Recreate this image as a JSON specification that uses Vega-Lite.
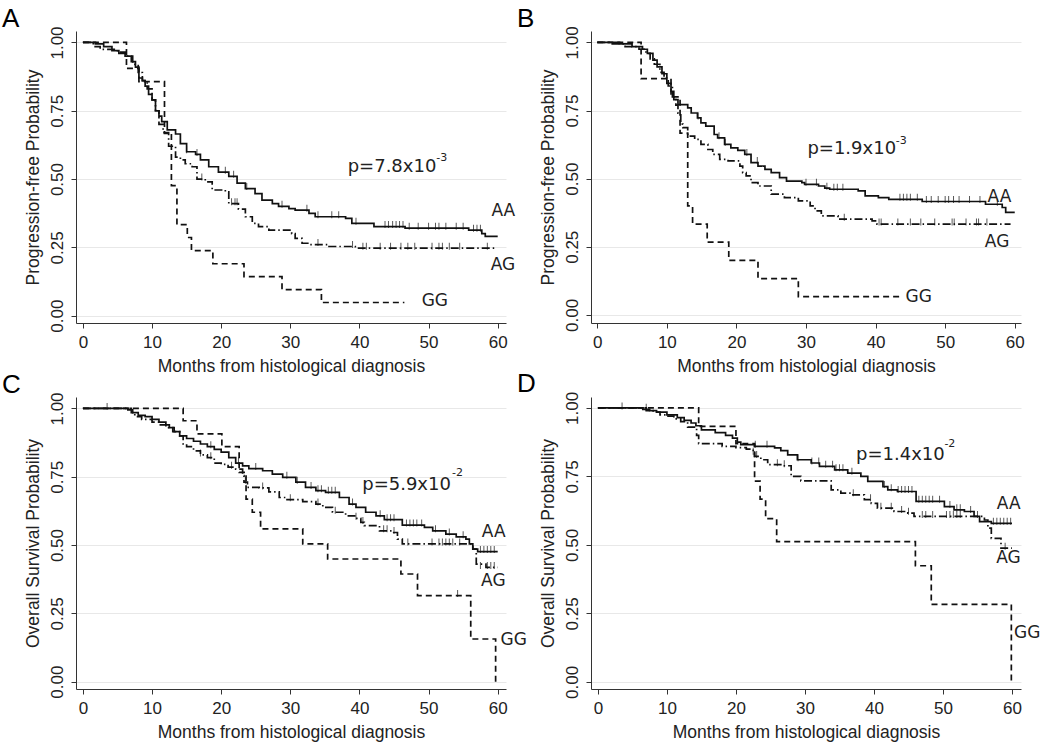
{
 "$schema": "https://vega.github.io/schema/vega-lite/v6.json",
 "background": "white",
 "padding": {"left": 2, "top": 5, "right": 5, "bottom": 5},
 "columns": 2,
 "spacing": {"row": 74, "column": 85},
 "bounds": "flush",
 "config": {
  "view": {"stroke": null},
  "font": "Liberation Sans",
  "axis": {"labelFont": "Liberation Sans", "labelFontSize": 17, "labelColor": "#222", "titleFont": "Liberation Sans", "titleFontSize": 17.5, "titleFontWeight": "normal", "titleColor": "#222", "domainColor": "#333", "tickColor": "#333", "tickSize": 5, "gridColor": "#e8e8e8", "labelFlush": false},
  "axisX": {"grid": false, "labelPadding": 6, "titlePadding": 7},
  "axisY": {"labelAngle": -90, "labelAlign": "center", "labelBaseline": "bottom", "labelPadding": 5, "titlePadding": 6, "grid": true},
  "title": {"font": "Liberation Sans", "fontSize": 26, "fontWeight": "normal", "anchor": "start", "frame": "bounds", "color": "#000", "offset": -6, "dx": -22}
 },
 "datasets": {
  "a_lines": [
   {"g":"AA","x":0,"y":1},{"g":"AA","x":1.8,"y":0.995},{"g":"AA","x":3,"y":0.985},{"g":"AA","x":4.2,"y":0.97},{"g":"AA","x":5.2,"y":0.96},{"g":"AA","x":6.1,"y":0.95},{"g":"AA","x":7,"y":0.93},{"g":"AA","x":7.6,"y":0.91},{"g":"AA","x":8.1,"y":0.87},{"g":"AA","x":8.6,"y":0.86},{"g":"AA","x":9,"y":0.84},{"g":"AA","x":9.5,"y":0.81},{"g":"AA","x":10,"y":0.79},{"g":"AA","x":10.5,"y":0.75},{"g":"AA","x":11,"y":0.73},{"g":"AA","x":11.4,"y":0.71},{"g":"AA","x":12.2,"y":0.68},{"g":"AA","x":13.4,"y":0.665},{"g":"AA","x":14.1,"y":0.63},{"g":"AA","x":15,"y":0.6},{"g":"AA","x":16.3,"y":0.59},{"g":"AA","x":17,"y":0.57},{"g":"AA","x":18.2,"y":0.545},{"g":"AA","x":19.6,"y":0.525},{"g":"AA","x":21.1,"y":0.51},{"g":"AA","x":22.3,"y":0.485},{"g":"AA","x":23.5,"y":0.465},{"g":"AA","x":24.9,"y":0.447},{"g":"AA","x":25.9,"y":0.423},{"g":"AA","x":27.4,"y":0.41},{"g":"AA","x":28.3,"y":0.4},{"g":"AA","x":29.8,"y":0.392},{"g":"AA","x":30.7,"y":0.386},{"g":"AA","x":32.7,"y":0.374},{"g":"AA","x":33.6,"y":0.362},{"g":"AA","x":38,"y":0.356},{"g":"AA","x":38.9,"y":0.338},{"g":"AA","x":42.1,"y":0.326},{"g":"AA","x":46.6,"y":0.32},{"g":"AA","x":55.8,"y":0.313},{"g":"AA","x":57.7,"y":0.3},{"g":"AA","x":58.2,"y":0.29},{"g":"AA","x":60,"y":0.29},
   {"g":"AG","x":0,"y":1},{"g":"AG","x":1.5,"y":0.985},{"g":"AG","x":2.5,"y":0.975},{"g":"AG","x":5,"y":0.965},{"g":"AG","x":6.2,"y":0.95},{"g":"AG","x":7.2,"y":0.92},{"g":"AG","x":8,"y":0.89},{"g":"AG","x":8.6,"y":0.86},{"g":"AG","x":9.3,"y":0.83},{"g":"AG","x":10,"y":0.79},{"g":"AG","x":10.5,"y":0.75},{"g":"AG","x":11,"y":0.7},{"g":"AG","x":11.6,"y":0.67},{"g":"AG","x":12.4,"y":0.62},{"g":"AG","x":13.4,"y":0.58},{"g":"AG","x":14.1,"y":0.57},{"g":"AG","x":14.8,"y":0.556},{"g":"AG","x":15.8,"y":0.545},{"g":"AG","x":16.5,"y":0.5},{"g":"AG","x":17.7,"y":0.49},{"g":"AG","x":18.7,"y":0.46},{"g":"AG","x":20.6,"y":0.453},{"g":"AG","x":21.1,"y":0.41},{"g":"AG","x":22.5,"y":0.39},{"g":"AG","x":23.5,"y":0.362},{"g":"AG","x":24.5,"y":0.338},{"g":"AG","x":25.4,"y":0.326},{"g":"AG","x":26.9,"y":0.313},{"g":"AG","x":30.2,"y":0.3},{"g":"AG","x":30.7,"y":0.283},{"g":"AG","x":31.7,"y":0.265},{"g":"AG","x":32.7,"y":0.26},{"g":"AG","x":35.6,"y":0.253},{"g":"AG","x":39.4,"y":0.247},{"g":"AG","x":59.7,"y":0.247},
   {"g":"GG","x":0,"y":1},{"g":"GG","x":6.3,"y":0.905},{"g":"GG","x":8.1,"y":0.857},{"g":"GG","x":11.8,"y":0.667},{"g":"GG","x":12.8,"y":0.476},{"g":"GG","x":13.6,"y":0.333},{"g":"GG","x":15.1,"y":0.286},{"g":"GG","x":15.7,"y":0.238},{"g":"GG","x":18.8,"y":0.19},{"g":"GG","x":23.3,"y":0.143},{"g":"GG","x":28.8,"y":0.095},{"g":"GG","x":34.5,"y":0.048},{"g":"GG","x":46.5,"y":0.048}
  ],
  "a_cens": [
   {"x":15,"y":0.6},{"x":16.5,"y":0.59},{"x":20.6,"y":0.525},{"x":21.8,"y":0.51},{"x":23.7,"y":0.465},{"x":28.8,"y":0.4},{"x":32.4,"y":0.386},{"x":34,"y":0.362},{"x":36,"y":0.362},{"x":37,"y":0.362},{"x":39.5,"y":0.338},{"x":43.7,"y":0.326},{"x":44.2,"y":0.326},{"x":44.8,"y":0.326},{"x":45.3,"y":0.326},{"x":45.8,"y":0.326},{"x":46.3,"y":0.326},{"x":47.2,"y":0.32},{"x":48.5,"y":0.32},{"x":50,"y":0.32},{"x":51,"y":0.32},{"x":51.5,"y":0.32},{"x":52.5,"y":0.32},{"x":54,"y":0.32},{"x":55,"y":0.32},{"x":56.5,"y":0.313},{"x":57,"y":0.313},{"x":57.5,"y":0.313},
   {"x":17.2,"y":0.5},{"x":21.5,"y":0.41},{"x":22,"y":0.41},{"x":22.3,"y":0.41},{"x":34,"y":0.26},{"x":39,"y":0.253},{"x":40.5,"y":0.247},{"x":41,"y":0.247},{"x":43,"y":0.247},{"x":44.5,"y":0.247},{"x":46,"y":0.247},{"x":47,"y":0.247},{"x":48,"y":0.247},{"x":50.5,"y":0.247},{"x":51.5,"y":0.247},{"x":52,"y":0.247},{"x":53,"y":0.247},{"x":54.5,"y":0.247},{"x":58.5,"y":0.247}
  ],
  "a_lab": [{"x":59.1,"y":0.384,"t":"AA"},{"x":59,"y":0.186,"t":"AG"},{"x":49,"y":0.052,"t":"GG"}],
  "a_p": [{"x":38.3,"y":0.544,"t":"p=7.8x10"}],
  "a_sup": [{"x":51.1,"y":0.578,"t":"-3"}],
  "b_lines": [
   {"g":"AA","x":0,"y":1},{"g":"AA","x":3.2,"y":0.995},{"g":"AA","x":5,"y":0.985},{"g":"AA","x":6.5,"y":0.975},{"g":"AA","x":7.2,"y":0.96},{"g":"AA","x":8,"y":0.935},{"g":"AA","x":8.6,"y":0.91},{"g":"AA","x":9.3,"y":0.885},{"g":"AA","x":10,"y":0.85},{"g":"AA","x":10.6,"y":0.82},{"g":"AA","x":11,"y":0.79},{"g":"AA","x":11.6,"y":0.772},{"g":"AA","x":13,"y":0.76},{"g":"AA","x":13.5,"y":0.741},{"g":"AA","x":14.4,"y":0.723},{"g":"AA","x":14.9,"y":0.705},{"g":"AA","x":15.6,"y":0.693},{"g":"AA","x":16.8,"y":0.662},{"g":"AA","x":17.3,"y":0.65},{"g":"AA","x":18.3,"y":0.626},{"g":"AA","x":19.2,"y":0.613},{"g":"AA","x":20.2,"y":0.604},{"g":"AA","x":21.2,"y":0.589},{"g":"AA","x":22.1,"y":0.559},{"g":"AA","x":23.1,"y":0.546},{"g":"AA","x":24.1,"y":0.534},{"g":"AA","x":25,"y":0.522},{"g":"AA","x":26.2,"y":0.504},{"g":"AA","x":27.2,"y":0.491},{"g":"AA","x":29.4,"y":0.485},{"g":"AA","x":29.8,"y":0.479},{"g":"AA","x":31.8,"y":0.473},{"g":"AA","x":32.7,"y":0.465},{"g":"AA","x":33.4,"y":0.461},{"g":"AA","x":37.5,"y":0.455},{"g":"AA","x":38.5,"y":0.437},{"g":"AA","x":40.4,"y":0.43},{"g":"AA","x":41.9,"y":0.424},{"g":"AA","x":46.7,"y":0.416},{"g":"AA","x":55.8,"y":0.406},{"g":"AA","x":58.2,"y":0.394},{"g":"AA","x":58.7,"y":0.376},{"g":"AA","x":60,"y":0.376},
   {"g":"AG","x":0,"y":1},{"g":"AG","x":1.8,"y":0.995},{"g":"AG","x":4,"y":0.985},{"g":"AG","x":6,"y":0.975},{"g":"AG","x":7,"y":0.96},{"g":"AG","x":7.6,"y":0.94},{"g":"AG","x":8.2,"y":0.92},{"g":"AG","x":9,"y":0.89},{"g":"AG","x":9.6,"y":0.87},{"g":"AG","x":10.2,"y":0.84},{"g":"AG","x":10.8,"y":0.8},{"g":"AG","x":11.3,"y":0.77},{"g":"AG","x":11.6,"y":0.74},{"g":"AG","x":12,"y":0.7},{"g":"AG","x":12.3,"y":0.687},{"g":"AG","x":13,"y":0.656},{"g":"AG","x":14,"y":0.644},{"g":"AG","x":14.9,"y":0.626},{"g":"AG","x":15.9,"y":0.607},{"g":"AG","x":16.6,"y":0.589},{"g":"AG","x":17.6,"y":0.571},{"g":"AG","x":18.8,"y":0.565},{"g":"AG","x":20.5,"y":0.546},{"g":"AG","x":20.9,"y":0.522},{"g":"AG","x":21.4,"y":0.51},{"g":"AG","x":22.1,"y":0.485},{"g":"AG","x":23.1,"y":0.473},{"g":"AG","x":25,"y":0.443},{"g":"AG","x":26.9,"y":0.43},{"g":"AG","x":28.9,"y":0.418},{"g":"AG","x":30.6,"y":0.4},{"g":"AG","x":31.3,"y":0.382},{"g":"AG","x":32.2,"y":0.363},{"g":"AG","x":34.6,"y":0.351},{"g":"AG","x":39.5,"y":0.345},{"g":"AG","x":40.2,"y":0.333},{"g":"AG","x":59.4,"y":0.333},
   {"g":"GG","x":0,"y":1},{"g":"GG","x":6.3,"y":0.867},{"g":"GG","x":10.6,"y":0.8},{"g":"GG","x":11.9,"y":0.667},{"g":"GG","x":13,"y":0.4},{"g":"GG","x":13.7,"y":0.333},{"g":"GG","x":15.8,"y":0.267},{"g":"GG","x":18.9,"y":0.2},{"g":"GG","x":23.1,"y":0.133},{"g":"GG","x":28.9,"y":0.067},{"g":"GG","x":43.8,"y":0.067}
  ],
  "b_cens": [
   {"x":14.5,"y":0.723},{"x":17.5,"y":0.65},{"x":18.4,"y":0.626},{"x":21.5,"y":0.589},{"x":23,"y":0.559},{"x":30,"y":0.479},{"x":31.5,"y":0.479},{"x":33,"y":0.465},{"x":34,"y":0.461},{"x":34.5,"y":0.461},{"x":35.3,"y":0.461},{"x":43.5,"y":0.424},{"x":44,"y":0.424},{"x":44.5,"y":0.424},{"x":45,"y":0.424},{"x":46,"y":0.424},{"x":47.3,"y":0.416},{"x":48,"y":0.416},{"x":49,"y":0.416},{"x":50,"y":0.416},{"x":50.5,"y":0.416},{"x":51.2,"y":0.416},{"x":52,"y":0.416},{"x":53.5,"y":0.416},{"x":55,"y":0.416},{"x":57.5,"y":0.406},
   {"x":35.5,"y":0.351},{"x":40.5,"y":0.333},{"x":40.8,"y":0.333},{"x":43.2,"y":0.333},{"x":45,"y":0.333},{"x":46.5,"y":0.333},{"x":48.5,"y":0.333},{"x":51,"y":0.333},{"x":51.3,"y":0.333},{"x":53,"y":0.333},{"x":54.5,"y":0.333},{"x":54.8,"y":0.333},{"x":56,"y":0.333}
  ],
  "b_lab": [{"x":56.1,"y":0.433,"t":"AA"},{"x":55.7,"y":0.268,"t":"AG"},{"x":44.3,"y":0.065,"t":"GG"}],
  "b_p": [{"x":30.2,"y":0.607,"t":"p=1.9x10"}],
  "b_sup": [{"x":42.9,"y":0.637,"t":"-3"}],
  "c_lines": [
   {"g":"AA","x":0,"y":1},{"g":"AA","x":6.5,"y":0.995},{"g":"AA","x":7.2,"y":0.985},{"g":"AA","x":8,"y":0.975},{"g":"AA","x":9,"y":0.97},{"g":"AA","x":10,"y":0.96},{"g":"AA","x":11,"y":0.95},{"g":"AA","x":12,"y":0.94},{"g":"AA","x":12.5,"y":0.93},{"g":"AA","x":13.2,"y":0.915},{"g":"AA","x":14,"y":0.9},{"g":"AA","x":15,"y":0.89},{"g":"AA","x":16,"y":0.88},{"g":"AA","x":17,"y":0.87},{"g":"AA","x":18,"y":0.86},{"g":"AA","x":19,"y":0.85},{"g":"AA","x":20,"y":0.84},{"g":"AA","x":21.1,"y":0.82},{"g":"AA","x":22.1,"y":0.8},{"g":"AA","x":23.1,"y":0.79},{"g":"AA","x":24,"y":0.78},{"g":"AA","x":26,"y":0.772},{"g":"AA","x":27.4,"y":0.76},{"g":"AA","x":28.9,"y":0.748},{"g":"AA","x":30.8,"y":0.73},{"g":"AA","x":32.2,"y":0.711},{"g":"AA","x":33.7,"y":0.699},{"g":"AA","x":35.1,"y":0.693},{"g":"AA","x":37.1,"y":0.674},{"g":"AA","x":38.5,"y":0.65},{"g":"AA","x":39.5,"y":0.638},{"g":"AA","x":40.9,"y":0.62},{"g":"AA","x":42.4,"y":0.607},{"g":"AA","x":43.6,"y":0.593},{"g":"AA","x":46.2,"y":0.573},{"g":"AA","x":49.4,"y":0.565},{"g":"AA","x":50.6,"y":0.552},{"g":"AA","x":52.5,"y":0.54},{"g":"AA","x":54,"y":0.53},{"g":"AA","x":55.4,"y":0.522},{"g":"AA","x":55.9,"y":0.504},{"g":"AA","x":56.4,"y":0.485},{"g":"AA","x":57.1,"y":0.476},{"g":"AA","x":60,"y":0.476},
   {"g":"AG","x":0,"y":1},{"g":"AG","x":7,"y":0.985},{"g":"AG","x":7.5,"y":0.97},{"g":"AG","x":8.5,"y":0.96},{"g":"AG","x":10,"y":0.95},{"g":"AG","x":11,"y":0.94},{"g":"AG","x":12,"y":0.93},{"g":"AG","x":13,"y":0.915},{"g":"AG","x":14,"y":0.9},{"g":"AG","x":14.5,"y":0.87},{"g":"AG","x":15,"y":0.86},{"g":"AG","x":16,"y":0.845},{"g":"AG","x":17,"y":0.83},{"g":"AG","x":18,"y":0.82},{"g":"AG","x":19,"y":0.8},{"g":"AG","x":20,"y":0.795},{"g":"AG","x":21,"y":0.785},{"g":"AG","x":22.1,"y":0.778},{"g":"AG","x":23.1,"y":0.754},{"g":"AG","x":23.3,"y":0.73},{"g":"AG","x":23.8,"y":0.711},{"g":"AG","x":25.5,"y":0.709},{"g":"AG","x":26.9,"y":0.695},{"g":"AG","x":28.4,"y":0.674},{"g":"AG","x":29.3,"y":0.666},{"g":"AG","x":31.8,"y":0.659},{"g":"AG","x":33.7,"y":0.65},{"g":"AG","x":34.7,"y":0.638},{"g":"AG","x":36.1,"y":0.62},{"g":"AG","x":38,"y":0.607},{"g":"AG","x":39.5,"y":0.598},{"g":"AG","x":40.2,"y":0.583},{"g":"AG","x":40.7,"y":0.571},{"g":"AG","x":42.9,"y":0.552},{"g":"AG","x":44.8,"y":0.546},{"g":"AG","x":45.5,"y":0.522},{"g":"AG","x":46.2,"y":0.504},{"g":"AG","x":56.4,"y":0.485},{"g":"AG","x":56.9,"y":0.43},{"g":"AG","x":58.3,"y":0.418},{"g":"AG","x":60,"y":0.418},
   {"g":"GG","x":0,"y":1},{"g":"GG","x":14.5,"y":0.955},{"g":"GG","x":16.5,"y":0.907},{"g":"GG","x":20.1,"y":0.86},{"g":"GG","x":22.6,"y":0.766},{"g":"GG","x":23.6,"y":0.668},{"g":"GG","x":24.5,"y":0.62},{"g":"GG","x":25.7,"y":0.559},{"g":"GG","x":31.8,"y":0.504},{"g":"GG","x":35.4,"y":0.449},{"g":"GG","x":46,"y":0.394},{"g":"GG","x":48.4,"y":0.315},{"g":"GG","x":56.1,"y":0.156},{"g":"GG","x":59.7,"y":0}
  ],
  "c_cens": [
   {"x":3.5,"y":1},{"x":18.5,"y":0.86},{"x":22.5,"y":0.8},{"x":25,"y":0.78},{"x":29.5,"y":0.748},{"x":31,"y":0.73},{"x":33,"y":0.711},{"x":34,"y":0.699},{"x":34.5,"y":0.699},{"x":35.5,"y":0.693},{"x":36,"y":0.693},{"x":36.5,"y":0.693},{"x":39,"y":0.65},{"x":43,"y":0.607},{"x":44,"y":0.593},{"x":44.5,"y":0.593},{"x":45,"y":0.593},{"x":46.8,"y":0.573},{"x":47.3,"y":0.573},{"x":47.8,"y":0.573},{"x":48.3,"y":0.573},{"x":49,"y":0.573},{"x":51,"y":0.552},{"x":53,"y":0.54},{"x":55,"y":0.53},{"x":57.5,"y":0.476},{"x":58,"y":0.476},{"x":58.5,"y":0.476},{"x":59,"y":0.476},{"x":59.5,"y":0.476},
   {"x":17,"y":0.83},{"x":18.5,"y":0.82},{"x":21.5,"y":0.785},{"x":23.5,"y":0.73},{"x":26,"y":0.709},{"x":30,"y":0.666},{"x":34,"y":0.65},{"x":36.5,"y":0.62},{"x":39.5,"y":0.598},{"x":40.5,"y":0.583},{"x":43.5,"y":0.552},{"x":44,"y":0.552},{"x":45,"y":0.546},{"x":47,"y":0.504},{"x":50.5,"y":0.504},{"x":51.5,"y":0.504},{"x":52,"y":0.504},{"x":52.5,"y":0.504},{"x":53,"y":0.504},{"x":53.5,"y":0.504},{"x":54.5,"y":0.504},{"x":57.5,"y":0.418},{"x":58.5,"y":0.418},{"x":59,"y":0.418},{"x":59.5,"y":0.418},
   {"x":54.2,"y":0.315}
  ],
  "c_lab": [{"x":57.7,"y":0.546,"t":"AA"},{"x":57.6,"y":0.37,"t":"AG"},{"x":60.4,"y":0.154,"t":"GG"}],
  "c_p": [{"x":40.4,"y":0.721,"t":"p=5.9x10"}],
  "c_sup": [{"x":53.4,"y":0.765,"t":"-2"}],
  "d_lines": [
   {"g":"AA","x":0,"y":1},{"g":"AA","x":6.5,"y":0.995},{"g":"AA","x":7.5,"y":0.99},{"g":"AA","x":8.5,"y":0.985},{"g":"AA","x":10,"y":0.975},{"g":"AA","x":11.5,"y":0.965},{"g":"AA","x":12.5,"y":0.955},{"g":"AA","x":13.5,"y":0.945},{"g":"AA","x":14.2,"y":0.935},{"g":"AA","x":15,"y":0.92},{"g":"AA","x":17,"y":0.91},{"g":"AA","x":18.5,"y":0.9},{"g":"AA","x":19.5,"y":0.89},{"g":"AA","x":20.2,"y":0.875},{"g":"AA","x":20.7,"y":0.866},{"g":"AA","x":22.7,"y":0.86},{"g":"AA","x":25.6,"y":0.854},{"g":"AA","x":26.5,"y":0.844},{"g":"AA","x":27.5,"y":0.829},{"g":"AA","x":28.9,"y":0.811},{"g":"AA","x":30.9,"y":0.799},{"g":"AA","x":32.1,"y":0.787},{"g":"AA","x":34.3,"y":0.774},{"g":"AA","x":36.2,"y":0.762},{"g":"AA","x":38.1,"y":0.75},{"g":"AA","x":39.1,"y":0.732},{"g":"AA","x":41.3,"y":0.713},{"g":"AA","x":42,"y":0.701},{"g":"AA","x":43.4,"y":0.695},{"g":"AA","x":46.1,"y":0.659},{"g":"AA","x":50.2,"y":0.64},{"g":"AA","x":51.6,"y":0.628},{"g":"AA","x":53.1,"y":0.622},{"g":"AA","x":54.5,"y":0.604},{"g":"AA","x":55.3,"y":0.585},{"g":"AA","x":57,"y":0.579},{"g":"AA","x":60,"y":0.579},
   {"g":"AG","x":0,"y":1},{"g":"AG","x":7,"y":0.99},{"g":"AG","x":8,"y":0.985},{"g":"AG","x":9,"y":0.975},{"g":"AG","x":10,"y":0.97},{"g":"AG","x":11,"y":0.96},{"g":"AG","x":12,"y":0.95},{"g":"AG","x":13,"y":0.93},{"g":"AG","x":14.3,"y":0.9},{"g":"AG","x":14.6,"y":0.87},{"g":"AG","x":18,"y":0.86},{"g":"AG","x":20,"y":0.855},{"g":"AG","x":21.5,"y":0.85},{"g":"AG","x":22,"y":0.845},{"g":"AG","x":22.5,"y":0.835},{"g":"AG","x":22.7,"y":0.823},{"g":"AG","x":23.6,"y":0.811},{"g":"AG","x":24.6,"y":0.793},{"g":"AG","x":26.5,"y":0.789},{"g":"AG","x":28,"y":0.75},{"g":"AG","x":29.4,"y":0.734},{"g":"AG","x":33.8,"y":0.701},{"g":"AG","x":35.2,"y":0.689},{"g":"AG","x":36.7,"y":0.683},{"g":"AG","x":38.6,"y":0.665},{"g":"AG","x":39.6,"y":0.652},{"g":"AG","x":40.5,"y":0.634},{"g":"AG","x":42.9,"y":0.622},{"g":"AG","x":44.9,"y":0.616},{"g":"AG","x":45.8,"y":0.604},{"g":"AG","x":56,"y":0.591},{"g":"AG","x":56.5,"y":0.561},{"g":"AG","x":57,"y":0.524},{"g":"AG","x":58.4,"y":0.488},{"g":"AG","x":60,"y":0.488},
   {"g":"GG","x":0,"y":1},{"g":"GG","x":14.6,"y":0.933},{"g":"GG","x":20,"y":0.87},{"g":"GG","x":22.7,"y":0.733},{"g":"GG","x":23.5,"y":0.667},{"g":"GG","x":24.3,"y":0.596},{"g":"GG","x":25.9,"y":0.512},{"g":"GG","x":46,"y":0.424},{"g":"GG","x":48.3,"y":0.283},{"g":"GG","x":59.9,"y":0}
  ],
  "d_cens": [
   {"x":3.5,"y":1},{"x":7,"y":0.995},{"x":22.8,"y":0.86},{"x":24.5,"y":0.86},{"x":29,"y":0.811},{"x":31,"y":0.799},{"x":32,"y":0.799},{"x":33,"y":0.787},{"x":34,"y":0.787},{"x":34.5,"y":0.774},{"x":35,"y":0.774},{"x":35.5,"y":0.774},{"x":36.8,"y":0.762},{"x":41.5,"y":0.713},{"x":42.5,"y":0.701},{"x":43.5,"y":0.695},{"x":44,"y":0.695},{"x":44.5,"y":0.695},{"x":45,"y":0.695},{"x":45.5,"y":0.695},{"x":46.5,"y":0.659},{"x":47,"y":0.659},{"x":47.5,"y":0.659},{"x":48,"y":0.659},{"x":48.5,"y":0.659},{"x":49.5,"y":0.659},{"x":51,"y":0.64},{"x":52,"y":0.628},{"x":52.5,"y":0.628},{"x":54,"y":0.622},{"x":57.3,"y":0.579},{"x":57.8,"y":0.579},{"x":58.3,"y":0.579},{"x":58.8,"y":0.579},{"x":59.3,"y":0.579},{"x":59.8,"y":0.579},
   {"x":22.5,"y":0.835},{"x":23,"y":0.823},{"x":26,"y":0.793},{"x":27,"y":0.789},{"x":37,"y":0.683},{"x":39.5,"y":0.665},{"x":41,"y":0.634},{"x":42.5,"y":0.634},{"x":44,"y":0.622},{"x":45,"y":0.616},{"x":47,"y":0.604},{"x":47.5,"y":0.604},{"x":48.5,"y":0.604},{"x":50.5,"y":0.604},{"x":51,"y":0.604},{"x":51.5,"y":0.604},{"x":52,"y":0.604},{"x":52.5,"y":0.604},{"x":55,"y":0.604},{"x":59,"y":0.488}
  ],
  "d_lab": [{"x":57.8,"y":0.649,"t":"AA"},{"x":57.7,"y":0.451,"t":"AG"},{"x":60.3,"y":0.177,"t":"GG"}],
  "d_p": [{"x":37.4,"y":0.827,"t":"p=1.4x10"}],
  "d_sup": [{"x":50.2,"y":0.868,"t":"-2"}]
 },
 "concat": [
  {
   "width": 430, "height": 292, "title": "A",
   "encoding": {
    "x": {"field": "x", "type": "quantitative", "scale": {"domain": [-1, 61.2], "nice": false, "zero": false}, "axis": {"values": [0,10,20,30,40,50,60], "title": "Months from histological diagnosis"}},
    "y": {"field": "y", "type": "quantitative", "scale": {"domain": [-0.027, 1.042], "nice": false, "zero": false}, "axis": {"values": [0,0.25,0.5,0.75,1], "format": ".2f", "title": "Progression-free Probability"}}
   },
   "layer": [
    {"data": {"name": "a_lines"}, "mark": {"type": "line", "interpolate": "step-after", "strokeWidth": 1.7, "color": "#111"}, "encoding": {"strokeDash": {"field": "g", "type": "nominal", "scale": {"domain": ["AA","AG","GG"], "range": [[1,0],[8,3,1.5,3],[6,4]]}, "legend": null}}},
    {"data": {"name": "a_cens"}, "mark": {"type": "tick", "orient": "vertical", "size": 7, "thickness": 1, "yOffset": -2, "color": "#111"}},
    {"data": {"name": "a_lab"}, "mark": {"type": "text", "font": "DejaVu Sans", "fontSize": 17, "align": "left", "baseline": "middle", "color": "#222"}, "encoding": {"text": {"field": "t"}}},
    {"data": {"name": "a_p"}, "mark": {"type": "text", "font": "DejaVu Sans", "fontSize": 18, "align": "left", "baseline": "middle", "color": "#222"}, "encoding": {"text": {"field": "t"}}},
    {"data": {"name": "a_sup"}, "mark": {"type": "text", "font": "DejaVu Sans", "fontSize": 11, "align": "left", "baseline": "middle", "color": "#222"}, "encoding": {"text": {"field": "t"}}}
   ]
  },
  {
   "width": 430, "height": 292, "title": "B",
   "encoding": {
    "x": {"field": "x", "type": "quantitative", "scale": {"domain": [-0.9, 60.9], "nice": false, "zero": false}, "axis": {"values": [0,10,20,30,40,50,60], "title": "Months from histologial diagnosis"}},
    "y": {"field": "y", "type": "quantitative", "scale": {"domain": [-0.03, 1.042], "nice": false, "zero": false}, "axis": {"values": [0,0.25,0.5,0.75,1], "format": ".2f", "title": "Progression-free Probability"}}
   },
   "layer": [
    {"data": {"name": "b_lines"}, "mark": {"type": "line", "interpolate": "step-after", "strokeWidth": 1.7, "color": "#111"}, "encoding": {"strokeDash": {"field": "g", "type": "nominal", "scale": {"domain": ["AA","AG","GG"], "range": [[1,0],[8,3,1.5,3],[6,4]]}, "legend": null}}},
    {"data": {"name": "b_cens"}, "mark": {"type": "tick", "orient": "vertical", "size": 7, "thickness": 1, "yOffset": -2, "color": "#111"}},
    {"data": {"name": "b_lab"}, "mark": {"type": "text", "font": "DejaVu Sans", "fontSize": 17, "align": "left", "baseline": "middle", "color": "#222"}, "encoding": {"text": {"field": "t"}}},
    {"data": {"name": "b_p"}, "mark": {"type": "text", "font": "DejaVu Sans", "fontSize": 18, "align": "left", "baseline": "middle", "color": "#222"}, "encoding": {"text": {"field": "t"}}},
    {"data": {"name": "b_sup"}, "mark": {"type": "text", "font": "DejaVu Sans", "fontSize": 11, "align": "left", "baseline": "middle", "color": "#222"}, "encoding": {"text": {"field": "t"}}}
   ]
  },
  {
   "width": 430, "height": 292, "title": "C",
   "encoding": {
    "x": {"field": "x", "type": "quantitative", "scale": {"domain": [-1, 61.2], "nice": false, "zero": false}, "axis": {"values": [0,10,20,30,40,50,60], "title": "Months from histological diagnosis"}},
    "y": {"field": "y", "type": "quantitative", "scale": {"domain": [-0.027, 1.042], "nice": false, "zero": false}, "axis": {"values": [0,0.25,0.5,0.75,1], "format": ".2f", "title": "Overall Survival Probability"}}
   },
   "layer": [
    {"data": {"name": "c_lines"}, "mark": {"type": "line", "interpolate": "step-after", "strokeWidth": 1.7, "color": "#111"}, "encoding": {"strokeDash": {"field": "g", "type": "nominal", "scale": {"domain": ["AA","AG","GG"], "range": [[1,0],[8,3,1.5,3],[6,4]]}, "legend": null}}},
    {"data": {"name": "c_cens"}, "mark": {"type": "tick", "orient": "vertical", "size": 7, "thickness": 1, "yOffset": -2, "color": "#111"}},
    {"data": {"name": "c_lab"}, "mark": {"type": "text", "font": "DejaVu Sans", "fontSize": 17, "align": "left", "baseline": "middle", "color": "#222"}, "encoding": {"text": {"field": "t"}}},
    {"data": {"name": "c_p"}, "mark": {"type": "text", "font": "DejaVu Sans", "fontSize": 18, "align": "left", "baseline": "middle", "color": "#222"}, "encoding": {"text": {"field": "t"}}},
    {"data": {"name": "c_sup"}, "mark": {"type": "text", "font": "DejaVu Sans", "fontSize": 11, "align": "left", "baseline": "middle", "color": "#222"}, "encoding": {"text": {"field": "t"}}}
   ]
  },
  {
   "width": 430, "height": 292, "title": "D",
   "encoding": {
    "x": {"field": "x", "type": "quantitative", "scale": {"domain": [-1, 61.3], "nice": false, "zero": false}, "axis": {"values": [0,10,20,30,40,50,60], "title": "Months from histological diagnosis"}},
    "y": {"field": "y", "type": "quantitative", "scale": {"domain": [-0.026, 1.04], "nice": false, "zero": false}, "axis": {"values": [0,0.25,0.5,0.75,1], "format": ".2f", "title": "Overall Survival Probability"}}
   },
   "layer": [
    {"data": {"name": "d_lines"}, "mark": {"type": "line", "interpolate": "step-after", "strokeWidth": 1.7, "color": "#111"}, "encoding": {"strokeDash": {"field": "g", "type": "nominal", "scale": {"domain": ["AA","AG","GG"], "range": [[1,0],[8,3,1.5,3],[6,4]]}, "legend": null}}},
    {"data": {"name": "d_cens"}, "mark": {"type": "tick", "orient": "vertical", "size": 7, "thickness": 1, "yOffset": -2, "color": "#111"}},
    {"data": {"name": "d_lab"}, "mark": {"type": "text", "font": "DejaVu Sans", "fontSize": 17, "align": "left", "baseline": "middle", "color": "#222"}, "encoding": {"text": {"field": "t"}}},
    {"data": {"name": "d_p"}, "mark": {"type": "text", "font": "DejaVu Sans", "fontSize": 18, "align": "left", "baseline": "middle", "color": "#222"}, "encoding": {"text": {"field": "t"}}},
    {"data": {"name": "d_sup"}, "mark": {"type": "text", "font": "DejaVu Sans", "fontSize": 11, "align": "left", "baseline": "middle", "color": "#222"}, "encoding": {"text": {"field": "t"}}}
   ]
  }
 ]
}
